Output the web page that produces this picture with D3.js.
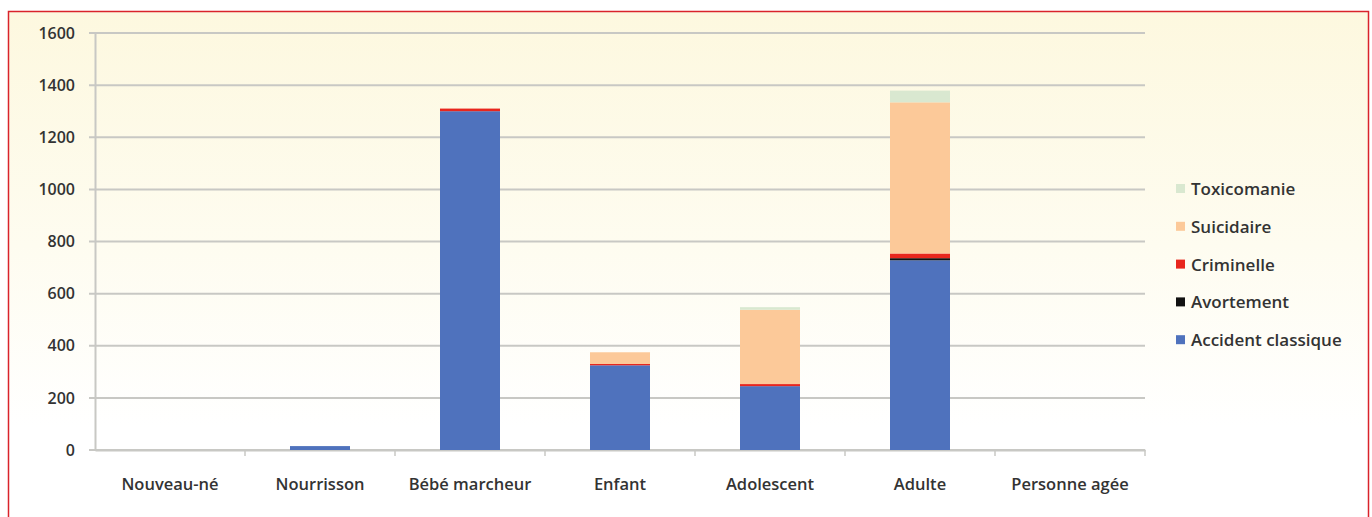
<!DOCTYPE html>
<html lang="fr">
<head>
<meta charset="UTF-8">
<title>Accidents par tranche d'âge</title>
<script src="https://d3js.org/d3.v7.min.js"></script>
<style>
    body, html {
        margin: 0;
        padding: 0;
        background: #fff;
        overflow: hidden;
    }
    svg text {
        font-family: 'Open Sans', sans-serif;
        fill: #333;
    }
</style>
</head>
<body>
<svg id="chart" width="1372" height="517"></svg>
<script>
    // categories on the x axis
    const categories = ["Nouveau-né", "Nourrisson", "Bébé marcheur", "Enfant", "Adolescent", "Adulte", "Personne agée"];

    // stacked series, bottom to top
    const accidentClassique = [0, 15, 1300, 325, 245, 728, 0];
    const avortement        = [0, 0, 0, 0, 0, 8, 0];
    const criminelle        = [0, 0, 10, 5, 8, 18, 0];
    const suicidaire        = [0, 0, 0, 45, 285, 580, 0];
    const toxicomanie       = [0, 0, 0, 0, 10, 45, 0];

    const seriesNames = ["Accident classique", "Avortement", "Criminelle", "Suicidaire", "Toxicomanie"];
    const seriesColors = ["#4f72bd", "#111111", "#e8261d", "#fcc999", "#d9e8d0"];
    const yTicks = [0, 200, 400, 600, 800, 1000, 1200, 1400, 1600];

    const svg = d3.select("#chart");

    // background with red frame
    const defs = svg.append("defs");
    const grad = defs.append("linearGradient")
        .attr("id", "bg").attr("x1", 0).attr("y1", 0).attr("x2", 0).attr("y2", 1);
    grad.append("stop").attr("offset", "0%").attr("stop-color", "#fdf8df");
    grad.append("stop").attr("offset", "45%").attr("stop-color", "#fefcf0");
    grad.append("stop").attr("offset", "80%").attr("stop-color", "#ffffff");

    svg.append("rect")
        .attr("x", 8.5).attr("y", 11.5)
        .attr("width", 1360).attr("height", 520)
        .attr("fill", "url(#bg)")
        .attr("stroke", "#d9232b")
        .attr("stroke-width", 1.5);

    const margin = {left: 95, right: 227, top: 33, bottom: 67};
    const width = 1372 - margin.left - margin.right;
    const height = 517 - margin.top - margin.bottom;

    const g = svg.append("g").attr("transform", `translate(${margin.left},${margin.top})`);

    const x = d3.scaleBand().domain(categories).range([0, width]).paddingInner(0.6).paddingOuter(0.3);
    const y = d3.scaleLinear().domain([0, 1600]).range([height, 0]);

    const table = categories.map((c, i) => ({
        cat: c,
        "Accident classique": accidentClassique[i],
        "Avortement": avortement[i],
        "Criminelle": criminelle[i],
        "Suicidaire": suicidaire[i],
        "Toxicomanie": toxicomanie[i]
    }));

    // grid lines
    g.append("g")
        .selectAll("line")
        .data(yTicks)
        .join("line")
        .attr("x1", -6).attr("x2", width)
        .attr("y1", d => y(d)).attr("y2", d => y(d))
        .attr("stroke", "#c8c8c4")
        .attr("stroke-width", 2);

    // y axis
    const yAxis = g.append("g")
        .call(d3.axisLeft(y).tickValues(yTicks).tickFormat(d3.format("d")).tickSize(0).tickPadding(20));
    yAxis.select(".domain").attr("stroke", "#c8c8c4").attr("stroke-width", 2);
    yAxis.selectAll("text")
        .style("font-size", "16px")
        .style("font-weight", "600")
        .style("fill", "#333");

    // x axis with ticks between categories
    const xAxis = g.append("g")
        .attr("transform", `translate(0,${height})`)
        .call(d3.axisBottom(x).tickSize(0).tickPadding(28));
    xAxis.select(".domain").attr("stroke", "#c8c8c4").attr("stroke-width", 2);
    xAxis.selectAll("text")
        .style("font-size", "16.5px")
        .style("font-weight", "600")
        .style("fill", "#333");
    xAxis.append("g")
        .selectAll("line")
        .data(d3.range(1, categories.length + 1))
        .join("line")
        .attr("x1", d => d * width / categories.length)
        .attr("x2", d => d * width / categories.length)
        .attr("y1", 0).attr("y2", 6)
        .attr("stroke", "#c8c8c4")
        .attr("stroke-width", 1.5);

    // stacked bars
    const stack = d3.stack().keys(seriesNames);
    const layers = stack(table);

    g.append("g")
        .selectAll("g")
        .data(layers)
        .join("g")
        .attr("fill", (d, i) => seriesColors[i])
        .selectAll("rect")
        .data(d => d)
        .join("rect")
        .attr("x", d => x(d.data.cat))
        .attr("width", x.bandwidth())
        .attr("y", d => y(d[1]))
        .attr("height", d => y(d[0]) - y(d[1]));

    // legend, top entry is the last series
    const legend = svg.append("g").attr("transform", "translate(1176,189)");
    const legendItems = seriesNames.slice().reverse();
    const legendColors = seriesColors.slice().reverse();
    const rows = legend.selectAll("g")
        .data(legendItems)
        .join("g")
        .attr("transform", (d, i) => `translate(0,${i * 37.8})`);
    rows.append("rect")
        .attr("x", 0).attr("y", -5)
        .attr("width", 9).attr("height", 9)
        .attr("fill", (d, i) => legendColors[i]);
    rows.append("text")
        .attr("x", 15).attr("y", 0)
        .attr("dy", "0.35em")
        .style("font-size", "17px")
        .style("font-weight", "600")
        .text(d => d);
</script>
</body>
</html>
